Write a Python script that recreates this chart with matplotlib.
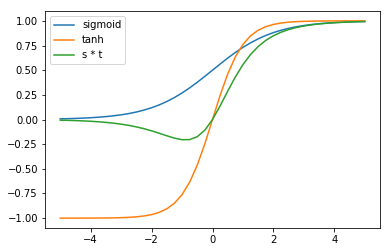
import matplotlib
matplotlib.use("Agg")
import matplotlib.pyplot as plt

x_values = [-5.0, -4.75, -4.5, -4.25, -4.0, -3.75, -3.5, -3.25, -3.0, -2.75,
            -2.5, -2.25, -2.0, -1.75, -1.5, -1.25, -1.0, -0.75, -0.5, -0.25,
            0.0, 0.25, 0.5, 0.75, 1.0, 1.25, 1.5, 1.75, 2.0, 2.25,
            2.5, 2.75, 3.0, 3.25, 3.5, 3.75, 4.0, 4.25, 4.5, 4.75, 5.0]

sigmoid_values = [0.0067, 0.0086, 0.0110, 0.0141, 0.0180, 0.0230, 0.0293, 0.0373, 0.0474, 0.0601,
                  0.0759, 0.0953, 0.1192, 0.1480, 0.1824, 0.2227, 0.2689, 0.3208, 0.3775, 0.4378,
                  0.5000, 0.5622, 0.6225, 0.6792, 0.7311, 0.7773, 0.8176, 0.8520, 0.8808, 0.9047,
                  0.9241, 0.9399, 0.9526, 0.9627, 0.9707, 0.9770, 0.9820, 0.9859, 0.9890, 0.9914, 0.9933]

tanh_values = [-0.9999, -0.9999, -0.9998, -0.9996, -0.9993, -0.9989, -0.9982, -0.9970, -0.9951, -0.9919,
               -0.9866, -0.9780, -0.9640, -0.9414, -0.9051, -0.8483, -0.7616, -0.6351, -0.4621, -0.2449,
               0.0000, 0.2449, 0.4621, 0.6351, 0.7616, 0.8483, 0.9051, 0.9414, 0.9640, 0.9780,
               0.9866, 0.9919, 0.9951, 0.9970, 0.9982, 0.9989, 0.9993, 0.9996, 0.9998, 0.9999, 0.9999]

st_values = [-0.0067, -0.0086, -0.0110, -0.0141, -0.0180, -0.0230, -0.0292, -0.0372, -0.0472, -0.0596,
             -0.0749, -0.0932, -0.1149, -0.1393, -0.1651, -0.1889, -0.2048, -0.2037, -0.1744, -0.1072,
             0.0000, 0.1377, 0.2877, 0.4314, 0.5568, 0.6594, 0.7400, 0.8021, 0.8491, 0.8848,
             0.9117, 0.9323, 0.9479, 0.9598, 0.9690, 0.9759, 0.9813, 0.9855, 0.9888, 0.9913, 0.9932]

fig, ax = plt.subplots(figsize=(390 / 72, 252 / 72), dpi=72)
fig.subplots_adjust(left=45 / 390, right=380 / 390, bottom=24 / 252, top=1 - 11 / 252)

ax.plot(x_values, sigmoid_values, label='sigmoid')
ax.plot(x_values, tanh_values, label='tanh')
ax.plot(x_values, st_values, label='s * t')
ax.legend(loc='upper left')

fig.savefig("out.png", dpi=72)
